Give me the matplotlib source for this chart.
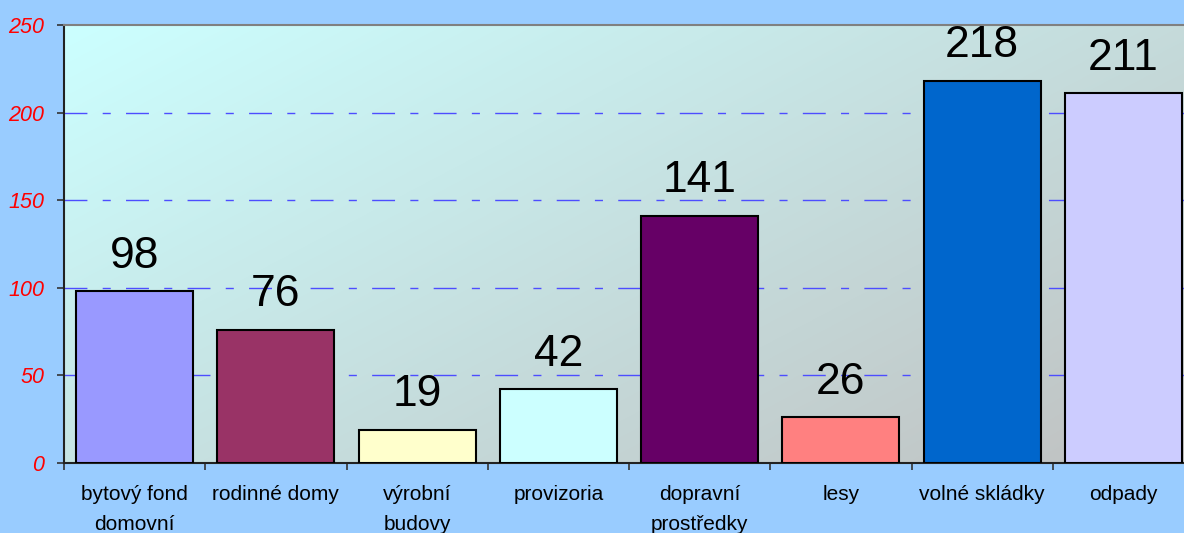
import matplotlib
matplotlib.use("Agg")
import matplotlib.pyplot as plt
import numpy as np
from matplotlib.colors import LinearSegmentedColormap

categories = ["bytový fond\ndomovní", "rodinné domy", "výrobní\nbudovy", "provizoria",
              "dopravní\nprostředky", "lesy", "volné skládky", "odpady"]
values = [98, 76, 19, 42, 141, 26, 218, 211]
colors = ["#9999FF", "#993366", "#FFFFCC", "#CCFFFF", "#660066", "#FF8080", "#0066CC", "#CCCCFF"]
yticks = [0, 50, 100, 150, 200, 250]

plt.rcParams['font.family'] = ['Liberation Sans', 'DejaVu Sans']

fig = plt.figure(figsize=(11.84, 5.33), dpi=100, facecolor="#99CCFF")
ax = fig.add_axes([64/1184, 70/533, 1130/1184, 438/533])

# gradient background
nx, ny = 200, 100
xx, yy = np.meshgrid(np.linspace(0, 1, nx), np.linspace(0, 1, ny))
t = (xx * 0.75 + yy * 0.55) / 1.3
cmap = LinearSegmentedColormap.from_list("bg", ["#CCFFFF", "#C0C0C0"])
ax.imshow(t, cmap=cmap, extent=[0, 1, 0, 1], transform=ax.transAxes,
          aspect="auto", origin="upper", zorder=0, interpolation="bilinear")

x = np.arange(len(categories))
ax.bar(x, values, width=0.83, color=colors, edgecolor="black", linewidth=1.5, zorder=3)

for xi, v in zip(x, values):
    ax.annotate(str(v), (xi, v), xytext=(0, 17), textcoords="offset points",
                ha="center", va="baseline", fontsize=32, color="black", zorder=4)

ax.set_xlim(-0.5, len(categories) - 0.5)
ax.set_ylim(0, 250)
ax.set_yticks(yticks)
ax.set_yticklabels([str(v) for v in yticks], color="#FF0000", fontstyle="italic", fontsize=15.5)
ax.tick_params(axis="y", direction="out", length=5, width=1.2, pad=9, colors="#333333", labelcolor="#FF0000")

ax.set_xticks(x)
ax.set_xticklabels(categories, fontsize=15, linespacing=1.75, va="top")
ax.set_xticks(np.arange(len(categories) + 1) - 0.5, minor=True)
ax.tick_params(axis="x", which="major", length=0, pad=16)
ax.tick_params(axis="x", which="minor", length=5, width=1.2, colors="#333333", direction="out")

for yv in yticks[1:-1]:
    ax.axhline(yv, color="#4D4DFF", linewidth=1.0, dashes=(16.5, 11, 5.8, 11), zorder=1)

for s in ["right"]:
    ax.spines[s].set_visible(False)
ax.spines["top"].set_color("#808080")
ax.spines["top"].set_linewidth(1.5)
ax.spines["left"].set_color("#222222")
ax.spines["left"].set_linewidth(1.5)
ax.spines["bottom"].set_color("#222222")
ax.spines["bottom"].set_linewidth(1.5)

fig.savefig("out.png", dpi=100, facecolor=fig.get_facecolor())
